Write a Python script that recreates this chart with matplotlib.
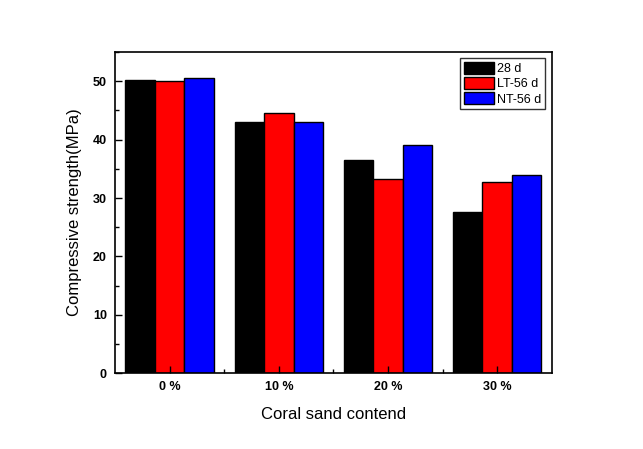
import numpy as np
import matplotlib
matplotlib.use('Agg')
import matplotlib.pyplot as plt
from matplotlib.ticker import MultipleLocator, FixedLocator

plt.rcParams['font.family'] = ['Liberation Sans', 'DejaVu Sans']

categories = ['0 %', '10 %', '20 %', '30 %']
series_names = ['28 d', 'LT-56 d', 'NT-56 d']
d28 = [50.2, 43.0, 36.5, 27.6]
lt56 = [50.1, 44.5, 33.2, 32.7]
nt56 = [50.6, 43.0, 39.1, 34.0]
colors = ['black', 'red', 'blue']

fig = plt.figure(figsize=(6.43, 4.49), dpi=100)
ax = fig.add_axes([0.179, 0.169, 0.679, 0.715])

x = np.arange(len(categories))
w = 0.27
for i, (vals, name, c) in enumerate(zip([d28, lt56, nt56], series_names, colors)):
    ax.bar(x + (i - 1) * w, vals, w, color=c, edgecolor='black', linewidth=1, label=name)

ax.set_xlim(-0.5, 3.5)
ax.set_ylim(0, 55)
ax.set_xticks(x)
ax.set_xticklabels(categories, fontweight='bold', fontsize=9)
ax.xaxis.set_minor_locator(FixedLocator([0.5, 1.5, 2.5]))
ax.yaxis.set_major_locator(MultipleLocator(10))
ax.yaxis.set_minor_locator(MultipleLocator(5))
for lab in ax.get_yticklabels():
    lab.set_fontweight('bold')
    lab.set_fontsize(9)
ax.tick_params(which='both', direction='in', top=False, right=False, width=1)
ax.tick_params(which='major', length=5, pad=6)
ax.tick_params(which='minor', length=3)
for s in ax.spines.values():
    s.set_linewidth(1.2)

ax.set_xlabel('Coral sand contend', fontsize=12, labelpad=10)
ax.set_ylabel('Compressive strength(MPa)', fontsize=12, labelpad=8)

leg = ax.legend(loc='upper right', fontsize=9, frameon=True, fancybox=False,
                edgecolor='black', handlelength=2.4, handleheight=1.1,
                handletextpad=0.3, labelspacing=0.15, borderpad=0.3,
                borderaxespad=0.5)
leg.get_frame().set_linewidth(1)

fig.savefig('out.png', dpi=100)
